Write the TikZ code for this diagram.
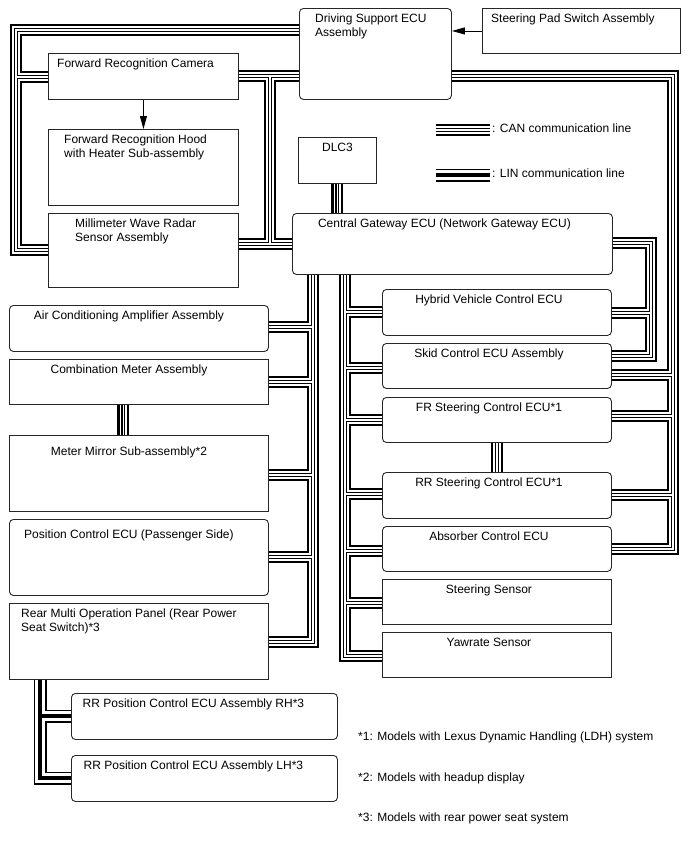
\documentclass[tikz,border=0pt]{standalone}
\usepackage{fontspec}
\setmainfont{Liberation Sans}
\usetikzlibrary{arrows.meta}

\begin{document}
\begin{tikzpicture}[
    x=1pt, y=-1pt,
    font=\fontsize{12}{14}\selectfont,
    part/.style={rectangle, draw=black!85, line width=0.9pt, anchor=north west, inner sep=0pt},
    ecu/.style={part, rounded corners=4pt},
    ttl/.style={anchor=north, inner sep=0pt, yshift=-6pt, xshift=-8pt, align=center},
    ttlw/.style={anchor=north west, inner sep=0pt, yshift=-6pt, align=left},
    note/.style={anchor=west, inner sep=0pt},
    can/.style={line width=12pt, draw=black,
                postaction={draw=white, line width=7.4pt},
                postaction={draw=black, line width=4pt},
                postaction={draw=white, line width=1.8pt}},
    lin/.style={line width=13pt, draw=black,
                postaction={draw=white, line width=10.6pt},
                postaction={draw=black, line width=3.2pt}},
    arr/.style={-{Triangle[length=13pt, width=7pt]}, line width=0.9pt},
]
\useasboundingbox (0,0) rectangle (688,852);

% ── Upper left: driving support group ──
\node[ecu, minimum width=152pt, minimum height=91pt,
      label={[ttlw, xshift=16pt]north west:Driving Support ECU\\Assembly}] (ds) at (299,8) {};
\node[part, minimum width=198pt, minimum height=45pt,
      label={[ttlw, xshift=9pt]north west:Steering Pad Switch Assembly}] (sps) at (482,8) {};
\node[part, minimum width=190pt, minimum height=46pt,
      label={[ttlw, xshift=9pt]north west:Forward Recognition Camera}] (cam) at (48,53) {};
\node[part, minimum width=190pt, minimum height=76pt,
      label={[ttlw, xshift=16pt]north west:Forward Recognition Hood\\with Heater Sub-assembly}] (hood) at (48,129) {};
\node[part, minimum width=190pt, minimum height=74pt,
      label={[ttlw, xshift=27pt]north west:Millimeter Wave Radar\\Sensor Assembly}] (radar) at (48,213) {};

\draw[arr] (sps.west) -- (sps.west -| ds.east);
\draw[arr] (cam) -- (hood);

% ── Gateway and DLC3 ──
\node[part, minimum width=78pt, minimum height=46pt,
      label={[ttl, xshift=8pt]north:DLC3}] (dlc) at (298,137) {};
\node[ecu, minimum width=320pt, minimum height=61pt,
      label={[ttl]north:Central Gateway ECU (Network Gateway ECU)}] (gw) at (292,213) {};

% ── Left column ──
\node[ecu, minimum width=259pt, minimum height=46pt,
      label={[ttl, xshift=-2pt]north:Air Conditioning Amplifier Assembly}] (ac) at (9,305) {};
\node[part, minimum width=259pt, minimum height=45pt,
      label={[ttl, xshift=-2pt]north:Combination Meter Assembly}] (comb) at (9,359) {};
\node[part, minimum width=259pt, minimum height=76pt,
      label={[ttl, xshift=-2pt, yshift=-6pt]north:Meter Mirror Sub-assembly*2}] (mirror) at (9,435) {};
\node[ecu, minimum width=259pt, minimum height=76pt,
      label={[ttl, xshift=-2pt, yshift=-5pt]north:Position Control ECU (Passenger Side)}] (pos) at (9,519) {};
\node[part, minimum width=259pt, minimum height=76pt,
      label={[ttlw, xshift=12pt]north west:Rear Multi Operation Panel (Rear Power\\Seat Switch)*3}] (rear) at (9,603) {};
\node[ecu, minimum width=266pt, minimum height=46pt,
      label={[ttl, xshift=-3pt]north:RR Position Control ECU Assembly RH*3}] (rrrh) at (71,693) {};
\node[ecu, minimum width=266pt, minimum height=46pt,
      label={[ttl, xshift=-3pt]north:RR Position Control ECU Assembly LH*3}] (rrlh) at (71,755) {};

% ── Right column ──
\node[ecu, minimum width=229pt, minimum height=46pt,
      label={[ttl]north:Hybrid Vehicle Control ECU}] (hv) at (382,289) {};
\node[ecu, minimum width=229pt, minimum height=45pt,
      label={[ttl]north:Skid Control ECU Assembly}] (skid) at (382,343) {};
\node[ecu, minimum width=229pt, minimum height=45pt,
      label={[ttl]north:FR Steering Control ECU*1}] (fr) at (382,397) {};
\node[ecu, minimum width=229pt, minimum height=46pt,
      label={[ttl]north:RR Steering Control ECU*1}] (rr) at (382,472) {};
\node[ecu, minimum width=229pt, minimum height=45pt,
      label={[ttl]north:Absorber Control ECU}] (abs) at (382,526) {};
\node[part, minimum width=229pt, minimum height=45pt,
      label={[ttl]north:Steering Sensor}] (ss) at (382,579) {};
\node[part, minimum width=229pt, minimum height=45pt,
      label={[ttl]north:Yawrate Sensor}] (yaw) at (382,632) {};

% ── CAN buses ──
\draw[can] (ds.west |- 0,30) -| (16,250) -- (radar.west |- 0,250)
           (16,77) -- (cam.west |- 0,77);
\draw[can] (ds.west |- 0,76) -- (cam.east |- 0,76)
           (270,76) -- (270,244)
           (radar.east |- 0,244) -- (gw.west |- 0,244);
\draw[can] (ds.east |- 0,76) -| (673,549) -- (abs.east |- 0,549)
           (673,375) -- (skid.east |- 0,375)
           (673,416) -- (fr.east |- 0,416)
           (673,495) -- (rr.east |- 0,495);
\draw[can] (gw.east |- 0,243) -| (651,356) -- (skid.east |- 0,356)
           (651,313) -- (hv.east |- 0,313);
\draw[can] (gw.south -| 345,0) |- (yaw.west |- 0,656)
           (345,312) -- (hv.west |- 0,312)
           (345,368) -- (skid.west |- 0,368)
           (345,420) -- (fr.west |- 0,420)
           (345,494) -- (rr.west |- 0,494)
           (345,551) -- (abs.west |- 0,551)
           (345,603) -- (ss.west |- 0,603);
\draw[can] (gw.south -| 313,0) |- (rear.east |- 0,642)
           (313,327) -- (ac.east |- 0,327)
           (313,382) -- (comb.east |- 0,382)
           (313,475) -- (mirror.east |- 0,475)
           (313,557) -- (pos.east |- 0,557);
\draw[can] (dlc.south) -- (dlc.south |- gw.north);
\draw[can] ([xshift=-15.5pt]comb.south) -- ([xshift=-15.5pt]mirror.north);
\draw[can] (fr.south) -- (rr.north);

% ── LIN bus ──
\draw[lin] (rear.south -| 40,0) |- (rrlh.west |- 0,778)
           (40,716) -- (rrrh.west |- 0,716);

% ── Legend ──
\coordinate (canA) at (436,130);
\coordinate (canB) at (490,130);
\draw[can] (canA) -- (canB);
\node[note] (canl) at (492,128) {: CAN communication line};
\coordinate (linA) at (436,175);
\coordinate (linB) at (490,175);
\draw[lin] (linA) -- (linB);
\node[note] (linl) at (492,173) {: LIN communication line};

% ── Footnotes ──
\node[note] (fn1) at (358,737) {*1: Models with Lexus Dynamic Handling (LDH) system};
\node[note] (fn2) at (358,778) {*2: Models with headup display};
\node[note] (fn3) at (358,818) {*3: Models with rear power seat system};

\end{tikzpicture}
\end{document}
